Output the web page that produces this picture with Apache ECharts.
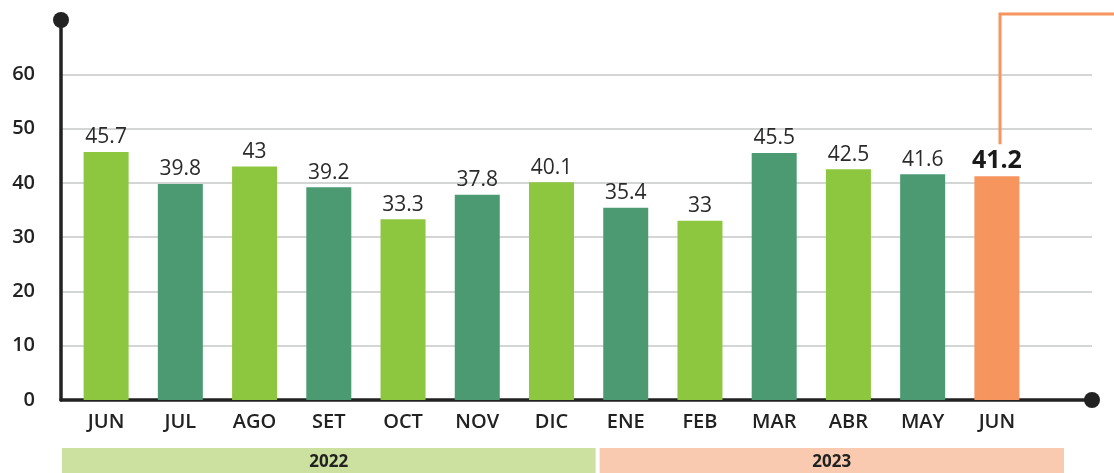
<!DOCTYPE html>
<html>
<head>
<meta charset="utf-8">
<script src="https://cdn.jsdelivr.net/npm/echarts@6/dist/echarts.min.js"></script>
<style>
  html, body { margin: 0; padding: 0; background: #fff; }
  #chart { width: 1114px; height: 473px; }
</style>
</head>
<body>
<div id="chart"></div>
<script>
// Datos del gráfico
const meses = ['JUN', 'JUL', 'AGO', 'SET', 'OCT', 'NOV', 'DIC', 'ENE', 'FEB', 'MAR', 'ABR', 'MAY', 'JUN'];
const valores = [45.7, 39.8, 43, 39.2, 33.3, 37.8, 40.1, 35.4, 33, 45.5, 42.5, 41.6, 41.2];
const anios = ['2022', '2023'];
const anioDesde = [0, 7];   // índice del primer mes de cada año
const anioHasta = [6, 12];  // índice del último mes de cada año
const ejeYMax = 70;
const ejeYPaso = 10;

// Colores
const VERDE_CLARO = '#8DC63F';
const VERDE_OSCURO = '#4C9A72';
const NARANJA = '#F7955F';
const TEXTO = '#222';
const FUENTE = "'Open Sans', 'Noto Sans', sans-serif";

function colorBarra(i) {
    if (i === valores.length - 1) return NARANJA;
    return i % 2 === 0 ? VERDE_CLARO : VERDE_OSCURO;
}

const chart = echarts.init(document.getElementById('chart'));

// Colores de las líneas de división: la del máximo queda oculta
const nLineas = ejeYMax / ejeYPaso + 1;
const coloresDivision = [];
for (let i = 0; i < nLineas; i++) {
    coloresDivision.push(i === nLineas - 1 ? 'rgba(0,0,0,0)' : '#c6c8c8');
}

const datosBarras = valores.map((v, i) => {
    const item = { value: v, itemStyle: { color: colorBarra(i) } };
    if (i === valores.length - 1) {
        item.label = { fontSize: 25, fontWeight: 'bold', color: '#1a1a1a', distance: 3 };
    }
    return item;
});

chart.setOption({
    animation: false,
    textStyle: { fontFamily: FUENTE },
    grid: [
        // Grid para ejes y líneas de división
        { left: 61, right: 22, top: 20, bottom: 73 },
        // Grid para las barras
        { left: 69, right: 80, top: 20, bottom: 73 }
    ],
    xAxis: [
        {
            gridIndex: 0,
            type: 'value',
            min: 0,
            max: 1,
            axisLabel: { show: false },
            axisTick: { show: false },
            splitLine: { show: false },
            axisLine: {
                show: true,
                symbol: ['none', 'circle'],
                symbolSize: [16, 16],
                lineStyle: { color: TEXTO, width: 3.5 }
            }
        },
        {
            gridIndex: 1,
            type: 'category',
            data: meses,
            axisLine: { show: false },
            axisTick: { show: false },
            axisLabel: {
                margin: 12,
                fontSize: 20,
                fontWeight: 600,
                color: TEXTO,
                fontFamily: FUENTE,
                interval: 0
            }
        }
    ],
    yAxis: [
        {
            gridIndex: 0,
            type: 'value',
            min: 0,
            max: ejeYMax,
            interval: ejeYPaso,
            axisLine: {
                show: true,
                symbol: ['none', 'circle'],
                symbolSize: [16, 16],
                lineStyle: { color: TEXTO, width: 3.5 }
            },
            axisTick: { show: false },
            axisLabel: {
                margin: 26,
                fontSize: 20,
                fontWeight: 600,
                color: TEXTO,
                fontFamily: FUENTE,
                formatter: v => (v >= ejeYMax ? '' : String(v))
            },
            splitLine: {
                show: true,
                lineStyle: { color: coloresDivision, width: 1.5 }
            }
        },
        {
            gridIndex: 1,
            type: 'value',
            min: 0,
            max: ejeYMax,
            interval: ejeYPaso,
            show: false
        }
    ],
    series: [
        {
            type: 'bar',
            xAxisIndex: 1,
            yAxisIndex: 1,
            barWidth: 45,
            data: datosBarras,
            z: 1,
            label: {
                show: true,
                position: 'top',
                distance: 4,
                fontSize: 21,
                color: '#2a2a2a',
                fontFamily: FUENTE
            }
        }
    ]
});

// Elementos decorativos: franjas de años y línea conectora
function pixelX(idx) {
    return chart.convertToPixel({ xAxisIndex: 1 }, idx);
}

const mitad = (pixelX(1) - pixelX(0)) / 2;
const xInicioGrid = chart.convertToPixel({ xAxisIndex: 0 }, 0);
const coloresAnio = ['#CCE1A0', '#F9CAAF'];
const graficos = [];

anios.forEach((anio, k) => {
    let x0, x1;
    if (k === 0) {
        x0 = xInicioGrid + 1;
    } else {
        x0 = (pixelX(anioDesde[k] - 1) + pixelX(anioDesde[k])) / 2 + 11;
    }
    if (k === anios.length - 1) {
        x1 = pixelX(anioHasta[k]) + mitad + 30;
    } else {
        x1 = (pixelX(anioHasta[k]) + pixelX(anioHasta[k] + 1)) / 2 + 7;
    }
    graficos.push({
        type: 'rect',
        shape: { x: x0, y: 448, width: x1 - x0, height: 25 },
        style: { fill: coloresAnio[k] }
    });
    graficos.push({
        type: 'text',
        x: (x0 + x1) / 2,
        y: 462,
        style: {
            text: anio,
            fill: TEXTO,
            font: 'bold 17px ' + FUENTE,
            align: 'center',
            verticalAlign: 'middle'
        }
    });
});

// Línea naranja desde el último valor hacia la esquina superior derecha
const ultimo = valores.length - 1;
const pUltimo = chart.convertToPixel({ xAxisIndex: 1, yAxisIndex: 1 }, [ultimo, valores[ultimo]]);
const xLinea = Math.round(pUltimo[0]) + 3;
graficos.push({
    type: 'polyline',
    shape: {
        points: [
            [xLinea, pUltimo[1] - 32],
            [xLinea, 14],
            [1114, 14]
        ]
    },
    style: { stroke: NARANJA, lineWidth: 3, fill: null }
});

chart.setOption({ graphic: graficos });

window.addEventListener('resize', function () {
    chart.resize();
});
</script>
</body>
</html>
